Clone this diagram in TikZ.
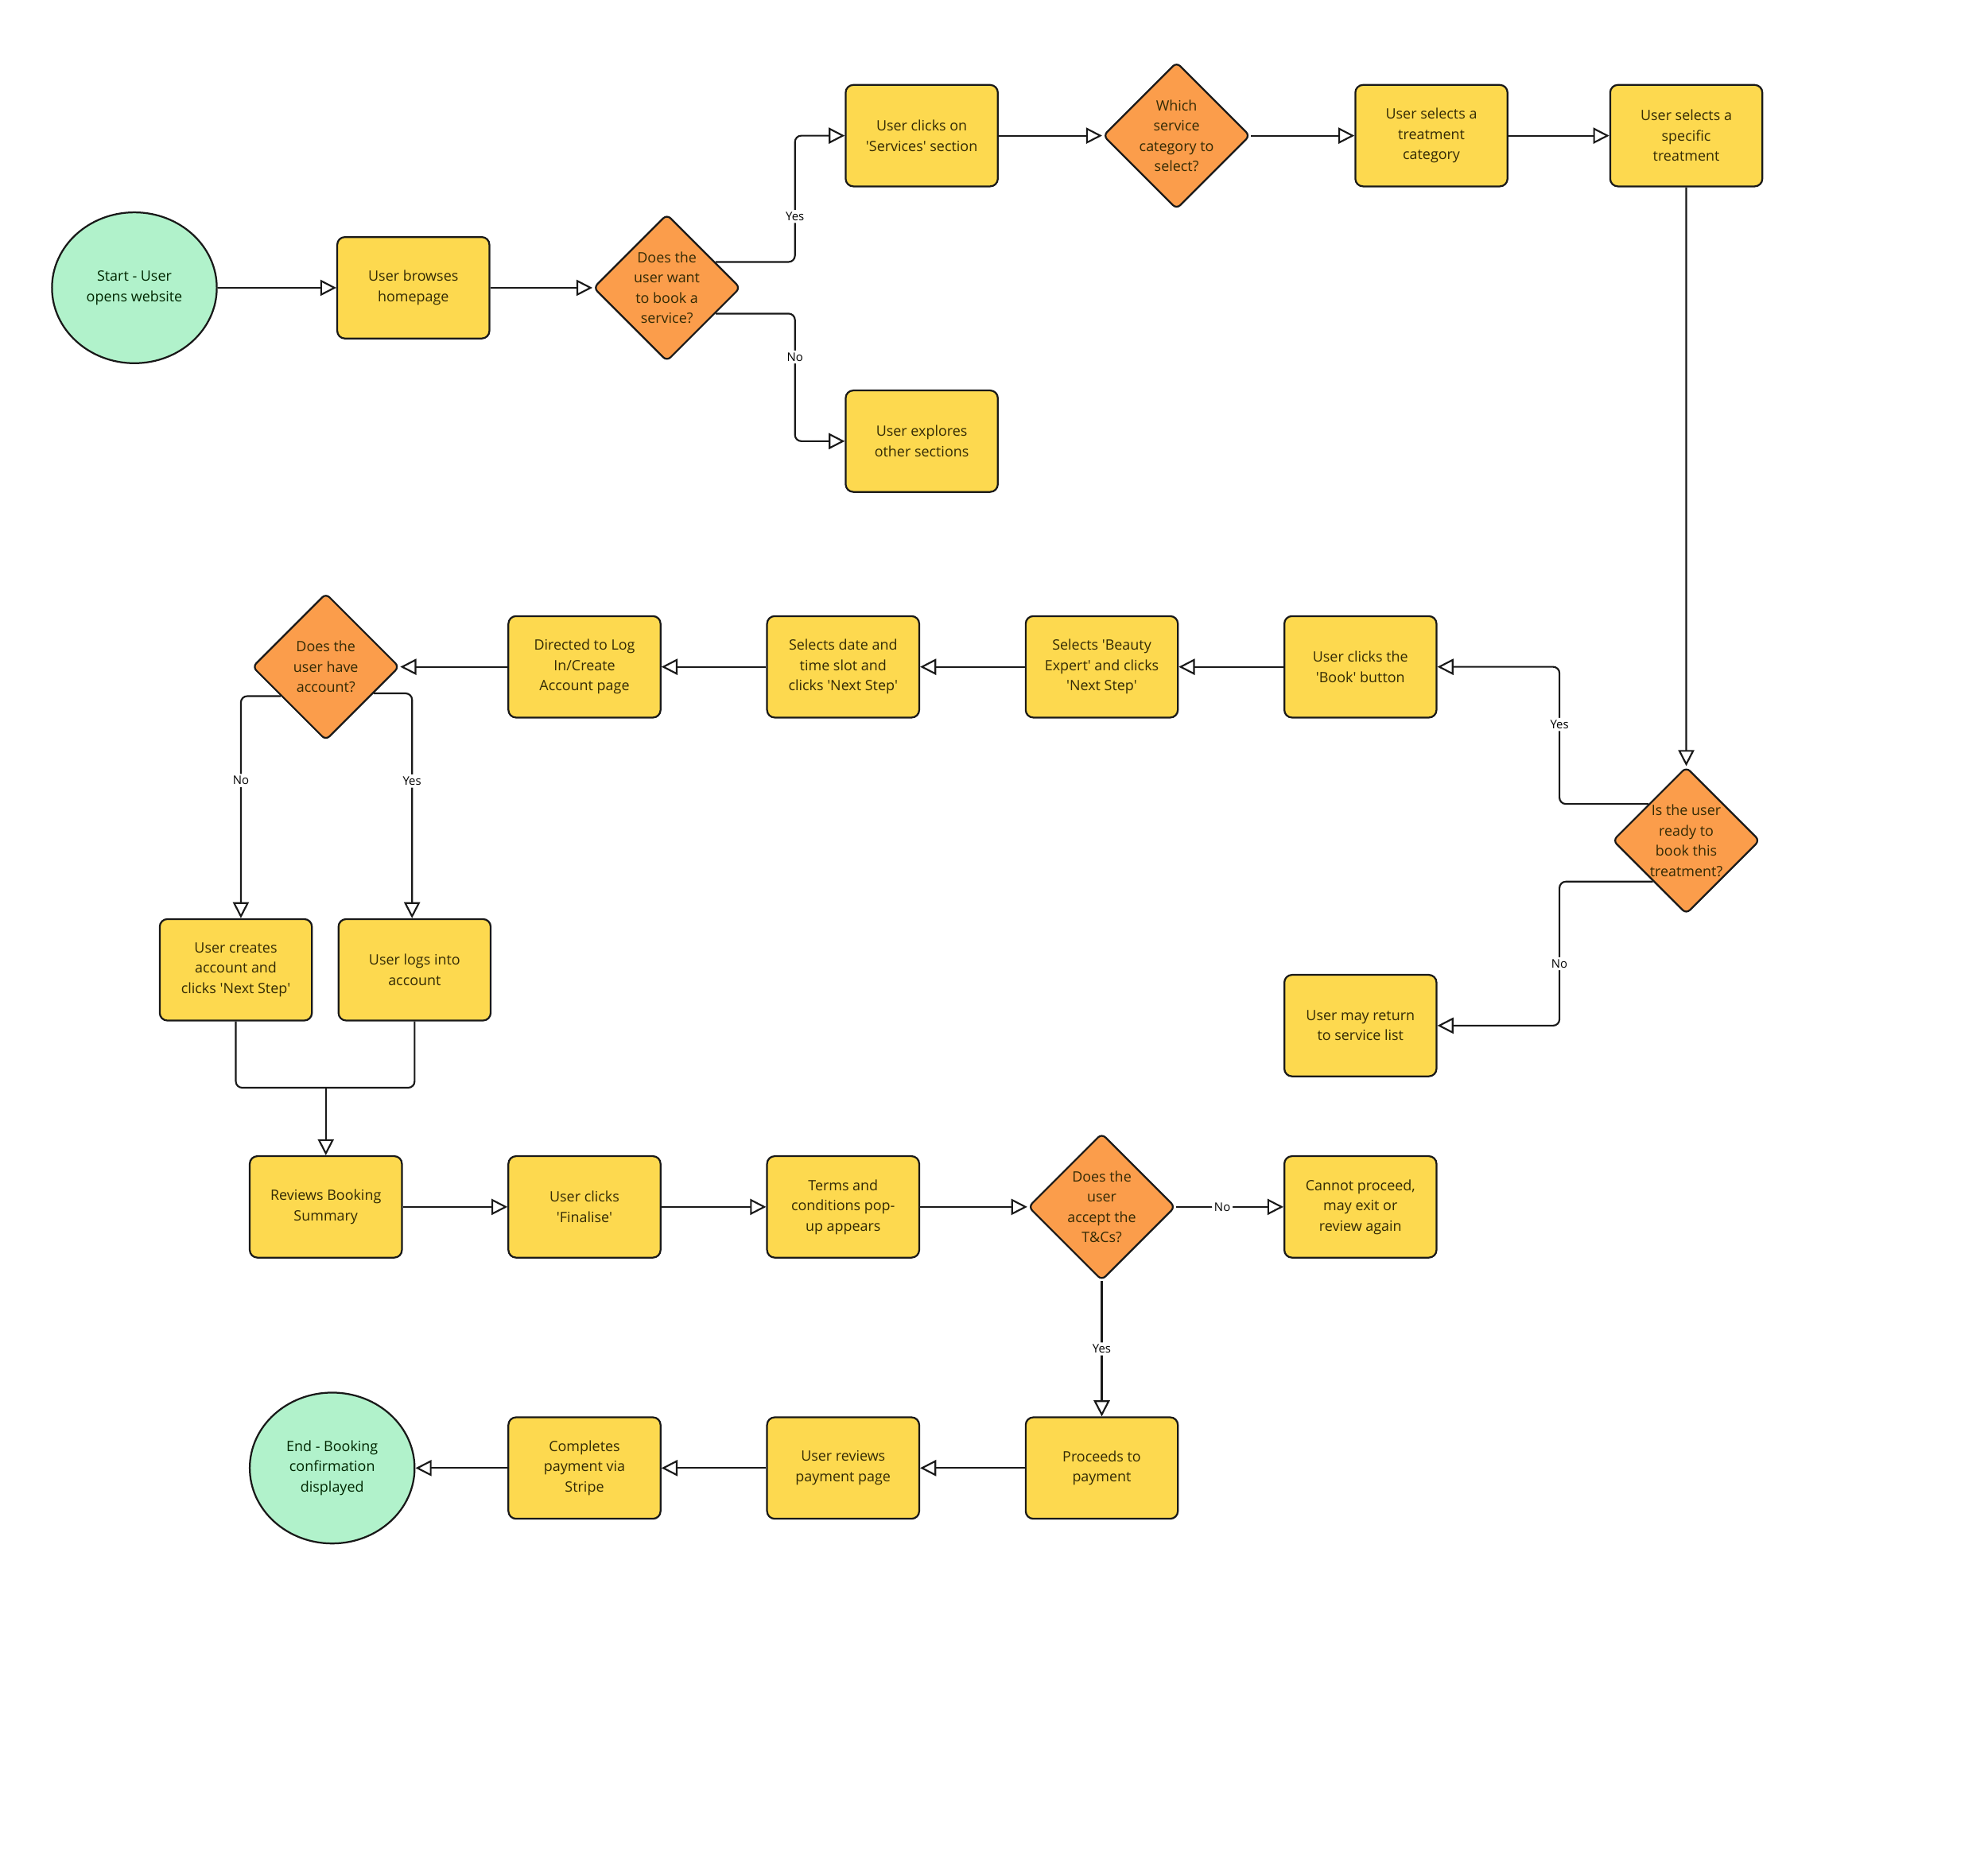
\documentclass[tikz,border=0pt]{standalone}
\usepackage{fontspec}
\setmainfont{Open Sans}
\usepackage{tikz}
\usetikzlibrary{shapes.geometric, arrows.meta, positioning}

\definecolor{stepfill}{HTML}{FDD94F}
\definecolor{askfill}{HTML}{FB9D4B}
\definecolor{endsfill}{HTML}{B1F2CB}
\definecolor{inktext}{HTML}{332A05}
\newcommand{\sq}{\textquotesingle}

\begin{document}
\begin{tikzpicture}[node distance=6.12cm,
    every node/.style={font=\fontsize{9.6}{13.66}\selectfont},
    stepbox/.style={draw=black!90, line width=1.2pt, rounded corners=0.18cm, fill=stepfill, text=inktext, align=center, minimum width=3.6cm, minimum height=2.4cm},
    askbox/.style={diamond, draw=black!90, line width=1.2pt, rounded corners=0.12cm, fill=askfill, text=inktext, align=center, minimum width=3.48cm, minimum height=3.48cm, inner sep=-3pt},
    endsbox/.style={ellipse, draw=black!90, line width=1.2pt, fill=endsfill, text=green!15!black, align=center, minimum width=3.9cm, minimum height=3.57cm},
    flow/.style={draw=black!90, line width=1.15pt, rounded corners=0.15cm, -{Triangle[length=0.38cm, width=0.38cm, fill=white]}},
    tieline/.style={draw=black!90, line width=1.15pt, rounded corners=0.15cm},
    answer/.style={fill=white, inner sep=1.5pt, font=\fontsize{8}{9}\selectfont, text=black}]
    \useasboundingbox (0,0) rectangle (47.04,-43.89);

    % top part
    \node[endsbox] (start) at (3.18,-6.81) {Start - User\\opens website};
    \node[stepbox, right of=start, xshift=0.48cm] (browse) {User browses\\homepage};
    \node[askbox, right of=browse, xshift=-0.12cm] (askbook) {Does the\\user want\\to book a\\service?};
    \node[stepbox] (services) at (21.81,-3.21) {User clicks on\\\sq Services\sq{} section};
    \node[stepbox] (explore) at (21.81,-10.44) {User explores\\other sections};
    \node[askbox, right of=services, xshift=-0.09cm] (askcat) {Which\\service\\category to\\select?};
    \node[stepbox, right of=askcat, xshift=-0.09cm] (treatcat) {User selects a\\treatment\\category};
    \node[stepbox, right of=treatcat, xshift=-0.09cm] (treatment) {User selects a\\specific\\treatment};
    \node[askbox] (askready) at (39.9,-19.89) {Is the user\\ready to\\book this\\treatment?};

    % booking steps
    \node[stepbox] (bookbtn) at (32.19,-15.78) {User clicks the\\\sq Book\sq{} button};
    \node[stepbox, left of=bookbtn] (expert) {Selects \sq Beauty\\Expert\sq{} and clicks\\\sq Next Step\sq};
    \node[stepbox, left of=expert] (slot) {Selects date and\\time slot and\\clicks \sq Next Step\sq};
    \node[stepbox, left of=slot] (loginpage) {Directed to Log\\In/Create\\Account page};
    \node[askbox, left of=loginpage] (askacct) {Does the\\user have\\account?};
    \node[stepbox] (retlist) at (32.19,-24.27) {User may return\\to service list};
    \node[stepbox] (create) at (5.58,-22.95) {User creates\\account and\\clicks \sq Next Step\sq};
    \node[stepbox, right of=create, xshift=-1.89cm] (login) {User logs into\\account};

    % summary and payment
    \node[stepbox] (summary) at (7.71,-28.56) {Reviews Booking\\Summary};
    \node[stepbox, right of=summary] (finalise) {User clicks\\\sq Finalise\sq};
    \node[stepbox, right of=finalise] (terms) {Terms and\\conditions pop-\\up appears};
    \node[askbox, right of=terms] (askterms) {Does the\\user\\accept the\\T\&Cs?};
    \node[stepbox, right of=askterms] (cannot) {Cannot proceed,\\may exit or\\review again};
    \node[stepbox, below of=askterms, yshift=-0.06cm] (proceed) {Proceeds to\\payment};
    \node[stepbox, left of=proceed] (paypage) {User reviews\\payment page};
    \node[stepbox, left of=paypage] (stripe) {Completes\\payment via\\Stripe};
    \node[endsbox, left of=stripe, xshift=0.15cm] (finish) {End - Booking\\confirmation\\displayed};

    \coordinate (bookcol) at (18.81,0);
    \coordinate (readycol) at (36.9,0);
    \coordinate (tiepoint) at (7.71,-25.74);

    \draw[flow] (start) -- (browse);
    \draw[flow] (browse) -- (askbook);
    \draw[flow] (askbook.28) -- (askbook.28 -| bookcol) |- node[answer, pos=0.18] {Yes} (services.west);
    \draw[flow] (askbook.-28) -- (askbook.-28 -| bookcol) |- node[answer, pos=0.17] {No} (explore.west);
    \draw[flow] (services) -- (askcat);
    \draw[flow] (askcat) -- (treatcat);
    \draw[flow] (treatcat) -- (treatment);
    \draw[flow] (treatment) -- (askready);
    \draw[flow] (askready.136) -- (askready.136 -| readycol) |- node[answer, pos=0.29] {Yes} (bookbtn.east);
    \draw[flow] (askready.231) -- (askready.231 -| readycol) |- node[answer, pos=0.285] {No} (retlist.east);
    \draw[flow] (bookbtn) -- (expert);
    \draw[flow] (expert) -- (slot);
    \draw[flow] (slot) -- (loginpage);
    \draw[flow] (loginpage) -- (askacct);
    \draw[flow] (askacct.213) -| node[answer, pos=0.69] {No} ([xshift=0.12cm]create.north);
    \draw[flow] (askacct.-29) -| node[answer, pos=0.695] {Yes} ([xshift=-0.06cm]login.north);
    \draw[tieline] (create.south) |- (tiepoint);
    \draw[tieline] (login.south) |- (tiepoint);
    \draw[flow] (tiepoint) -- (summary.north);
    \draw[flow] (summary) -- (finalise);
    \draw[flow] (finalise) -- (terms);
    \draw[flow] (terms) -- (askterms);
    \draw[flow] (askterms) -- node[answer, pos=0.43] {No} (cannot);
    \draw[flow] (askterms) -- node[answer] {Yes} (proceed);
    \draw[flow] (proceed) -- (paypage);
    \draw[flow] (paypage) -- (stripe);
    \draw[flow] (stripe) -- (finish);
\end{tikzpicture}
\end{document}
